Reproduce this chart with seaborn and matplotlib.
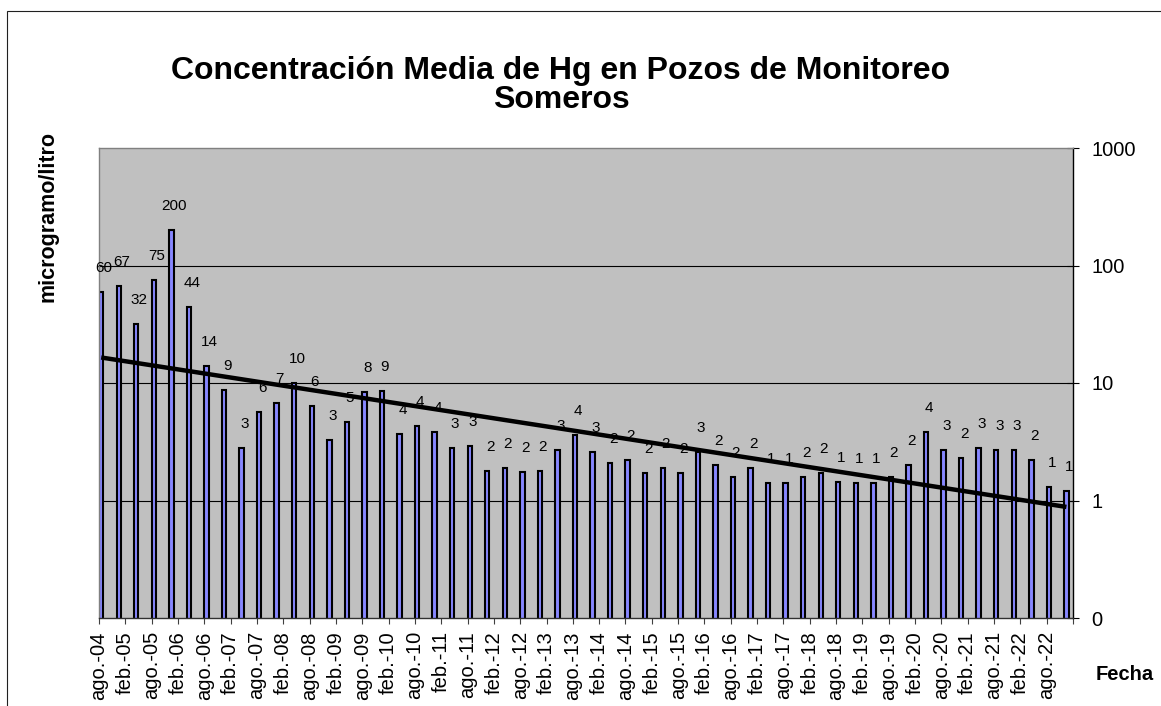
import numpy as np
import pandas as pd
import matplotlib
matplotlib.use("Agg")
import matplotlib.pyplot as plt
import seaborn as sns
from matplotlib.ticker import FixedLocator, FixedFormatter
from matplotlib.patches import Rectangle

# ---------------- data ----------------
sample_dates = [
    "2004-08", "2004-12",
    "2005-04", "2005-08", "2005-12", "2006-04", "2006-08", "2006-12",
    "2007-04", "2007-08", "2007-12", "2008-04", "2008-08", "2008-12",
    "2009-04", "2009-08", "2009-12", "2010-04", "2010-08", "2010-12",
    "2011-04", "2011-08", "2011-12", "2012-04", "2012-08", "2012-12",
    "2013-04", "2013-08", "2013-12", "2014-04", "2014-08", "2014-12",
    "2015-04", "2015-08", "2015-12", "2016-04", "2016-08", "2016-12",
    "2017-04", "2017-08", "2017-12", "2018-04", "2018-08", "2018-12",
    "2019-04", "2019-08", "2019-12", "2020-04", "2020-08", "2020-12",
    "2021-04", "2021-08", "2021-12", "2022-04", "2022-08", "2022-12",
]
hg_values = [
    60, 67, 32, 75, 200, 44, 14, 8.8, 2.8, 5.7,
    6.8, 10.0, 6.4, 3.3, 4.7, 8.4, 8.6, 3.7, 4.3, 3.8,
    2.8, 2.9, 1.8, 1.9, 1.75, 1.8, 2.7, 3.6, 2.6, 2.1,
    2.2, 1.7, 1.9, 1.7, 2.6, 2.0, 1.6, 1.9, 1.4, 1.4,
    1.6, 1.7, 1.45, 1.4, 1.4, 1.6, 2.0, 3.8, 2.7, 2.3,
    2.8, 2.7, 2.7, 2.2, 1.3, 1.2,
]
tick_labels = [
    "ago.-04", "feb.-05", "ago.-05", "feb.-06", "ago.-06", "feb.-07",
    "ago.-07", "feb.-08", "ago.-08", "feb.-09", "ago.-09", "feb.-10",
    "ago.-10", "feb.-11", "ago.-11", "feb.-12", "ago.-12", "feb.-13",
    "ago.-13", "feb.-14", "ago.-14", "feb.-15", "ago.-15", "feb.-16",
    "ago.-16", "feb.-17", "ago.-17", "feb.-18", "ago.-18", "feb.-19",
    "ago.-19", "feb.-20", "ago.-20", "feb.-21", "ago.-21", "feb.-22",
    "ago.-22", "",
]
y_ticks = [0.1, 1, 10, 100, 1000]
y_tick_labels = ["0", "1", "10", "100", "1000"]

# ---------------- derived positions (months since ago-2004) ----------------
dates = pd.to_datetime(sample_dates, format="%Y-%m")
months = (dates.year - 2004) * 12 + (dates.month - 8)
x_pos = np.asarray(months, dtype=float) + 0.5
df = pd.DataFrame({"mes": x_pos, "valor": hg_values})
tick_pos = [6 * i for i in range(len(tick_labels))]

# ---------------- style ----------------
sns.set_style("white")
plt.rcParams["font.family"] = ["Liberation Sans", "DejaVu Sans"]
plt.rcParams["text.color"] = "black"
plt.rcParams["axes.labelcolor"] = "black"
plt.rcParams["xtick.color"] = "black"
plt.rcParams["ytick.color"] = "black"
plt.rcParams["xtick.labelcolor"] = "black"
plt.rcParams["ytick.labelcolor"] = "black"

W, H = 1161, 706
fig = plt.figure(figsize=(W / 100, H / 100), dpi=100)
fig.patch.set_facecolor("white")

x0, x1, ytop, ybot = 99, 1073, 148, 618
ax = fig.add_axes([x0 / W, 1 - ybot / H, (x1 - x0) / W, (ybot - ytop) / H])
ax.set_facecolor("#c0c0c0")
ax.set_yscale("log")

sns.barplot(data=df, x="mes", y="valor", native_scale=True, width=0.25,
            color="#8787ff", saturation=1, edgecolor="black", linewidth=1.5,
            errorbar=None, ax=ax, zorder=2)

# exponential trend line (least squares on log values)
coef = np.polyfit(df["mes"], np.log10(df["valor"]), 1)
trend_x = np.array([df["mes"].min(), df["mes"].max()])
trend_y = 10 ** np.polyval(coef, trend_x)
ax.plot(trend_x, trend_y, color="black", lw=3.2, zorder=4, solid_capstyle="butt")

# data labels
for xv, v in zip(df["mes"], df["valor"]):
    ax.annotate(f"{v:.0f}", (xv, v), xytext=(3, 17), textcoords="offset pixels",
                ha="center", va="bottom", fontsize=11, color="black", zorder=5)

ax.set_xlim(0, 222)
ax.set_ylim(0.1, 1000)

# axes decoration
ax.xaxis.set_major_locator(FixedLocator(tick_pos))
ax.xaxis.set_major_formatter(FixedFormatter(tick_labels))
ax.xaxis.set_minor_locator(FixedLocator([]))
ax.tick_params(axis="x", which="major", direction="out", length=4.5, width=0.8,
               color="#404040", labelcolor="black", pad=5, labelsize=14.5,
               labelrotation=90, bottom=True)

ax.yaxis.tick_right()
ax.yaxis.set_major_locator(FixedLocator(y_ticks))
ax.yaxis.set_major_formatter(FixedFormatter(y_tick_labels))
ax.yaxis.set_minor_locator(FixedLocator([]))
ax.tick_params(axis="y", which="major", direction="inout", length=9, width=0.8,
               color="black", labelcolor="black", pad=9, labelsize=14.5,
               right=True, left=False)

ax.grid(False)
for yv in [1, 10, 100]:
    ax.axhline(yv, color="black", lw=0.8, zorder=1)

ax.spines["left"].set_color("#808080")
ax.spines["top"].set_color("#808080")
ax.spines["right"].set_color("black")
ax.spines["bottom"].set_color("#303030")
for s in ax.spines.values():
    s.set_linewidth(1.0)
    s.set_visible(True)

ax.set_xlabel("Fecha", fontsize=14.5, fontweight="bold", color="black")
ax.xaxis.set_label_coords((1125 - x0) / (x1 - x0), -(674 - ybot) / (ybot - ytop))
ax.xaxis.label.set_va("center")
ax.set_ylabel("microgramo/litro", fontsize=15.5, fontweight="bold", color="black")
ax.yaxis.set_label_position("left")
ax.yaxis.set_label_coords(-(x0 - 48) / (x1 - x0), (ybot - 217) / (ybot - ytop))
ax.yaxis.label.set_va("center")

# title (two lines)
fig.text(561 / W, 1 - 79 / H, "Concentración Media de Hg en Pozos de Monitoreo",
         ha="center", va="baseline", fontsize=23, fontweight="bold", color="black")
fig.text(561 / W, 1 - 108 / H, "Someros",
         ha="center", va="baseline", fontsize=23, fontweight="bold", color="black")

# chart area border
fig.patches.append(Rectangle((7 / W, -0.1), 1.2, 1 - 11 / H + 0.1,
                             transform=fig.transFigure, fill=False,
                             edgecolor="#202020", lw=0.8))

fig.savefig("out.png", dpi=100)
